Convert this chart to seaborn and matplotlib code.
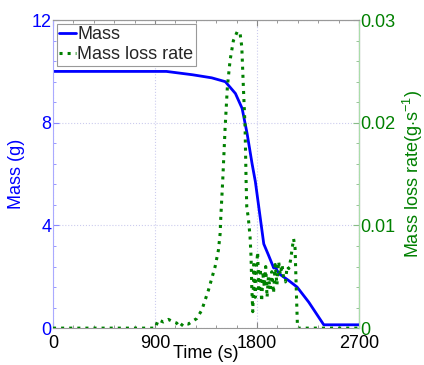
import matplotlib
matplotlib.use("Agg")
import matplotlib.pyplot as plt
import seaborn as sns
import pandas as pd
from matplotlib.ticker import AutoMinorLocator

# Mass curve (g) vs time (s)
mass_t = [0, 1000, 1230, 1400, 1520, 1609, 1668, 1712, 1756, 1785, 1859, 1900, 1947, 1960, 1975, 2000, 2080, 2153, 2256, 2388, 2700]
mass_g = [10.0, 10.0, 9.87, 9.75, 9.6, 9.14, 8.56, 7.58, 6.4, 5.7, 3.28, 2.85, 2.34, 2.45, 2.25, 2.1, 1.85, 1.6, 1.01, 0.13, 0.13]

# Mass loss rate (g/s) vs time (s)
rate_t = [0, 900, 930, 973, 1018, 1062, 1090, 1121, 1150, 1194, 1268, 1312, 1371, 1430, 1459, 1474,
          1480, 1497, 1509, 1518, 1538, 1562, 1591, 1626, 1650, 1665, 1679, 1694, 1703, 1709, 1723,
          1738, 1747, 1753, 1762, 1772, 1783, 1795, 1805, 1815, 1828, 1840, 1852, 1864, 1876, 1888,
          1900, 1915, 1930, 1945, 1960, 1975, 1990, 2005, 2020, 2035, 2050, 2065, 2080, 2095, 2110,
          2122, 2135, 2145, 2155, 2160, 2700]
rate_v = [0, 0, 0.0008, 0.0006, 0.00085, 0.0006, 0.0005, 0.0001, 0.0005, 0.0004, 0.00094, 0.00175,
          0.0037, 0.006, 0.0076, 0.0092, 0.0108, 0.0144, 0.0173, 0.0195, 0.0235, 0.0261, 0.028,
          0.0289, 0.0287, 0.0274, 0.0235, 0.0196, 0.0144, 0.0118, 0.0107, 0.0089, 0.0069, 0.004,
          0.0016, 0.0062, 0.0030, 0.0060, 0.0074, 0.0035, 0.0058, 0.0026, 0.0052, 0.0040, 0.0060,
          0.0030, 0.0050, 0.0038, 0.0055, 0.0034, 0.0062, 0.0042, 0.0065, 0.0052, 0.0062, 0.0048,
          0.0045, 0.0060, 0.0058, 0.0066, 0.0078, 0.0087, 0.0078, 0.0040, 0.0005, 0, 0]

x_ticks = [0, 900, 1800, 2700]
left_ticks = [0, 4, 8, 12]
right_ticks = [0, 0.01, 0.02, 0.03]
right_labels = ["0", "0.01", "0.02", "0.03"]

sns.set_style("white")
plt.rcParams['font.family'] = ['Liberation Sans', 'DejaVu Sans']
plt.rcParams['mathtext.fontset'] = 'custom'
plt.rcParams['mathtext.rm'] = 'Liberation Sans'

BLUE = (0, 0, 1)
GREEN = (0, 0.5, 0)

fig = plt.figure(figsize=(4.24, 3.65), dpi=100)
ax = fig.add_axes([0.125, 0.101, 0.722, 0.844])
ax2 = ax.twinx()

mass_df = pd.DataFrame({"t": mass_t, "m": mass_g})
rate_df = pd.DataFrame({"t": rate_t, "r": rate_v})

sns.lineplot(data=mass_df, x="t", y="m", ax=ax, color=BLUE, linewidth=2, label="Mass", legend=False)
sns.lineplot(data=rate_df, x="t", y="r", ax=ax2, color=GREEN, linewidth=2.2, linestyle=":", label="Mass loss rate", legend=False)

ax.set_xlim(0, 2700)
ax.set_ylim(0, 12)
ax2.set_ylim(0, 0.03)
ax.set_xticks(x_ticks)
ax.set_xticklabels([str(v) for v in x_ticks])
ax.set_yticks(left_ticks)
ax.set_yticklabels([str(v) for v in left_ticks])
ax2.set_yticks(right_ticks)
ax2.set_yticklabels(right_labels)
ax.xaxis.set_minor_locator(AutoMinorLocator(5))
ax.yaxis.set_minor_locator(AutoMinorLocator(5))
ax2.yaxis.set_minor_locator(AutoMinorLocator(5))

fs = 13
ax.tick_params(axis='x', which='both', direction='in', top=True, bottom=True, colors='#888888', labelcolor='black', labelsize=fs, pad=5)
ax.tick_params(axis='x', which='major', length=4)
ax.tick_params(axis='x', which='minor', length=2)
ax.tick_params(axis='y', which='both', direction='in', left=True, colors='#8888ff', labelcolor=BLUE, labelsize=fs, pad=1)
ax.tick_params(axis='y', which='major', length=4)
ax.tick_params(axis='y', which='minor', length=2)
ax2.tick_params(axis='y', which='both', direction='in', right=True, colors='#88bb88', labelcolor=GREEN, labelsize=fs, pad=1)
ax2.tick_params(axis='y', which='major', length=4)
ax2.tick_params(axis='y', which='minor', length=2)

for a in (ax, ax2):
    for s in a.spines.values():
        s.set_linewidth(0.8)
ax.spines['left'].set_color('#aaaaff')
ax.spines['bottom'].set_color('#999999')
ax.spines['top'].set_color('#999999')
ax2.spines['right'].set_color('#aaddaa')
ax2.spines['left'].set_visible(False)
ax2.spines['top'].set_color('#999999')
ax2.spines['bottom'].set_visible(False)

ax.grid(True, which='major', linestyle=':', color='#ccccee', linewidth=0.8)
ax.set_axisbelow(True)

ax.set_xlabel("Time (s)", fontsize=fs, color='black', labelpad=-5)
ax.set_ylabel("Mass (g)", fontsize=fs, color=BLUE, labelpad=5)
ax2.set_ylabel("Mass loss rate(g$\\cdot$s$^{-1}$)", fontsize=fs, color=GREEN, labelpad=4)

h1, l1 = ax.get_legend_handles_labels()
h2, l2 = ax2.get_legend_handles_labels()
leg = ax2.legend(h1 + h2, l1 + l2, loc='upper left', fontsize=fs, handlelength=0.9, handletextpad=0.1,
                 borderpad=0.15, labelspacing=0.15, borderaxespad=0.2, frameon=True, fancybox=False,
                 framealpha=1)
leg.get_frame().set_edgecolor('#999999')
leg.get_frame().set_linewidth(0.8)

fig.savefig("out.png", dpi=100)
